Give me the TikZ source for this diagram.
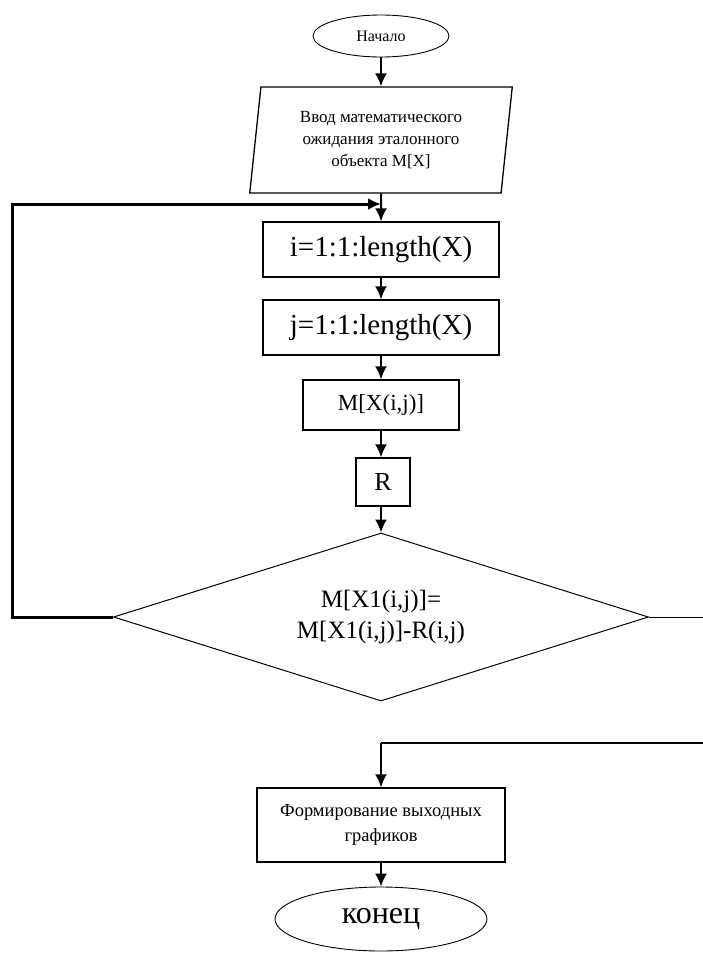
\documentclass[tikz,border=0pt]{standalone}
\usepackage{fontspec}
\setmainfont{Liberation Serif}
\usetikzlibrary{shapes.geometric,arrows.meta}

\begin{document}
\begin{tikzpicture}[x=1pt,y=-1pt,
      blok/.style={draw,line width=1.3pt,inner sep=0pt,align=center},
      oval/.style={draw,ellipse,line width=0.9pt,inner sep=0pt},
      strel/.style={line width=2pt,-{Latex[length=13pt,width=12pt]}}]
      \useasboundingbox(0,0)rectangle(703,956);
      \node[oval,minimum width=136,minimum height=42,font=\fontsize{16}{19}\selectfont](nach)at(381,36){Начало};
      \node[blok,trapezium,trapezium left angle=82.5,trapezium right angle=97.5,trapezium stretches=true,minimum width=263,minimum height=106,
        font=\fontsize{17}{22}\selectfont](vvod)at(381,140){Ввод математического\\ожидания эталонного\\объекта M[X]};
      \node[blok,minimum width=236,minimum height=55,font=\fontsize{29}{33}\selectfont](ci)at(381,249.5){i=1:1:length(X)};
      \node[blok,minimum width=236,minimum height=55,font=\fontsize{29}{33}\selectfont](cj)at(381,327.5){j=1:1:length(X)};
      \node[blok,minimum width=156,minimum height=50,font=\fontsize{23}{27}\selectfont](mx)at(381,405){M[X(i,j)]};
      \node[blok,minimum width=54,minimum height=48,font=\fontsize{26}{30}\selectfont](rr)at(383,482){R};
      \node[blok,diamond,aspect=3.18,line width=1pt,minimum width=535,minimum height=168,font=\fontsize{25}{31}\selectfont](usl)at(381,617){M[X1(i,j)]=\\M[X1(i,j)]-R(i,j)};
      \node[blok,minimum width=248,minimum height=74,font=\fontsize{18.5}{25}\selectfont](graf)at(381,825){Формирование выходных\\графиков};
      \node[oval,minimum width=212,minimum height=64,font=\fontsize{32}{36}\selectfont](kon)at(381,919){конец};
      \coordinate(L1)at(12,617);\coordinate(L2)at(12,204);\coordinate(L3)at(381,204);
      \coordinate(P1)at(703,617);\coordinate(P2)at(703,743);\coordinate(P3)at(381,743);
      \draw[strel](nach)--(vvod);\draw[strel](vvod)--(ci);
      \draw[strel](ci)--(cj);\draw[strel](cj)--(mx);
      \draw[strel](mx)--(rr.north-|mx.south);\draw[strel](rr.south-|usl.north)--(usl);
      \draw[line width=3pt,-{Latex[length=13pt,width=12pt]}](usl.west)--(L1)--(L2)--(L3);
      \draw[line width=1pt](usl.east)--(P1);
      \draw[line width=1.3pt](P2)--(P3);
      \draw[strel](P3)--(graf);\draw[strel](graf)--(kon);
    \end{tikzpicture}
\end{document}
